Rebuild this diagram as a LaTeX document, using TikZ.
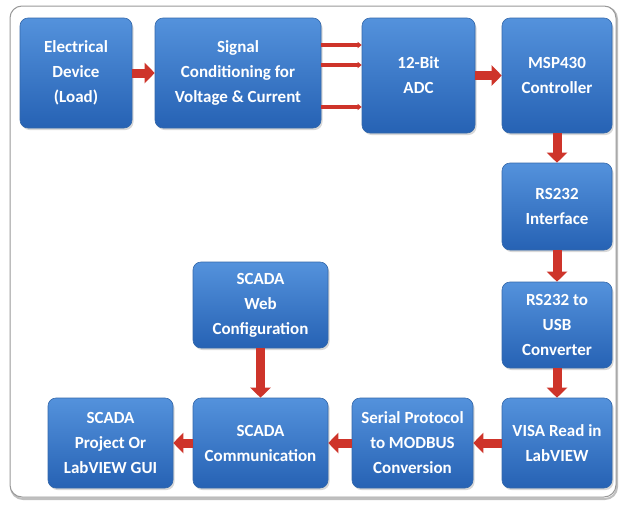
\documentclass[tikz,border=0pt]{standalone}
\usepackage{fontspec}
\setmainfont{Carlito}
\usetikzlibrary{arrows.meta,shadows}
\definecolor{boxtop}{RGB}{84,146,220}
\definecolor{boxbot}{RGB}{38,98,180}
\definecolor{boxline}{RGB}{52,104,170}
\definecolor{arrred}{RGB}{206,52,42}

\begin{document}
\begin{tikzpicture}[x=1pt, y=-1pt,
  blk/.style={draw=boxline, line width=0.6pt, rounded corners=8pt,
    top color=boxtop, bottom color=boxbot, text=white, align=center,
    font=\fontsize{17}{25}\selectfont\bfseries, inner sep=0pt,
    drop shadow={opacity=0.3, shadow xshift=1.5pt, shadow yshift=-2pt}},
  bigarr/.style={arrred, line width=9pt, -{Triangle[width=20pt,length=10pt]}},
  thinarr/.style={arrred, line width=3.5pt, -{Triangle[width=6pt,length=4pt]}}]
  \useasboundingbox (0,0) rectangle (619,509);
  \draw[gray!50, line width=2pt, rounded corners=12pt] (11,7) rectangle (617,499);
  \draw[gray!80, line width=1pt, rounded corners=12pt, fill=white] (10,6) rectangle (616,497);

  \node[blk, minimum width=112pt, minimum height=110pt] (elec) at (76,73) {Electrical\\Device\\(Load)};
  \node[blk, minimum width=166pt, minimum height=110pt] (sig) at (238,73) {Signal\\Conditioning for\\Voltage \& Current};
  \node[blk, minimum width=113pt, minimum height=115pt] (adc) at (418.5,75.5) {12-Bit\\ADC};
  \node[blk, minimum width=110pt, minimum height=115pt] (msp) at (557,75.5) {MSP430\\Controller};
  \node[blk, minimum width=110pt, minimum height=87pt] (rsi) at (557,206.5) {RS232\\Interface};
  \node[blk, minimum width=110pt, minimum height=86pt] (usb) at (557,325) {RS232 to\\USB\\Converter};
  \node[blk, minimum width=110pt, minimum height=90pt] (visa) at (557,443) {VISA Read in\\LabVIEW};
  \node[blk, minimum width=121pt, minimum height=90pt] (serial) at (412.5,443) {Serial Protocol\\to MODBUS\\Conversion};
  \node[blk, minimum width=135pt, minimum height=90pt] (comm) at (260.5,443) {SCADA\\Communication};
  \node[blk, minimum width=125pt, minimum height=90pt] (proj) at (110.5,443) {SCADA\\Project Or\\LabVIEW GUI};
  \node[blk, minimum width=135pt, minimum height=86pt] (web) at (260.5,305) {SCADA\\Web\\Configuration};

  \draw[bigarr] (elec) -- (sig);
  \draw[thinarr] (sig.east |- 0,45) -- (adc.west |- 0,45);
  \draw[thinarr] (sig.east |- 0,65) -- (adc.west |- 0,65);
  \draw[thinarr] (sig.east |- 0,107) -- (adc.west |- 0,107);
  \draw[bigarr] (adc) -- (msp);
  \draw[bigarr] (msp) -- (rsi);
  \draw[bigarr] (rsi) -- (usb);
  \draw[bigarr] (usb) -- (visa);
  \draw[bigarr] (visa) -- (serial);
  \draw[bigarr] (serial) -- (comm);
  \draw[bigarr] (web) -- (comm);
  \draw[bigarr] (comm) -- (proj);
\end{tikzpicture}
\end{document}
